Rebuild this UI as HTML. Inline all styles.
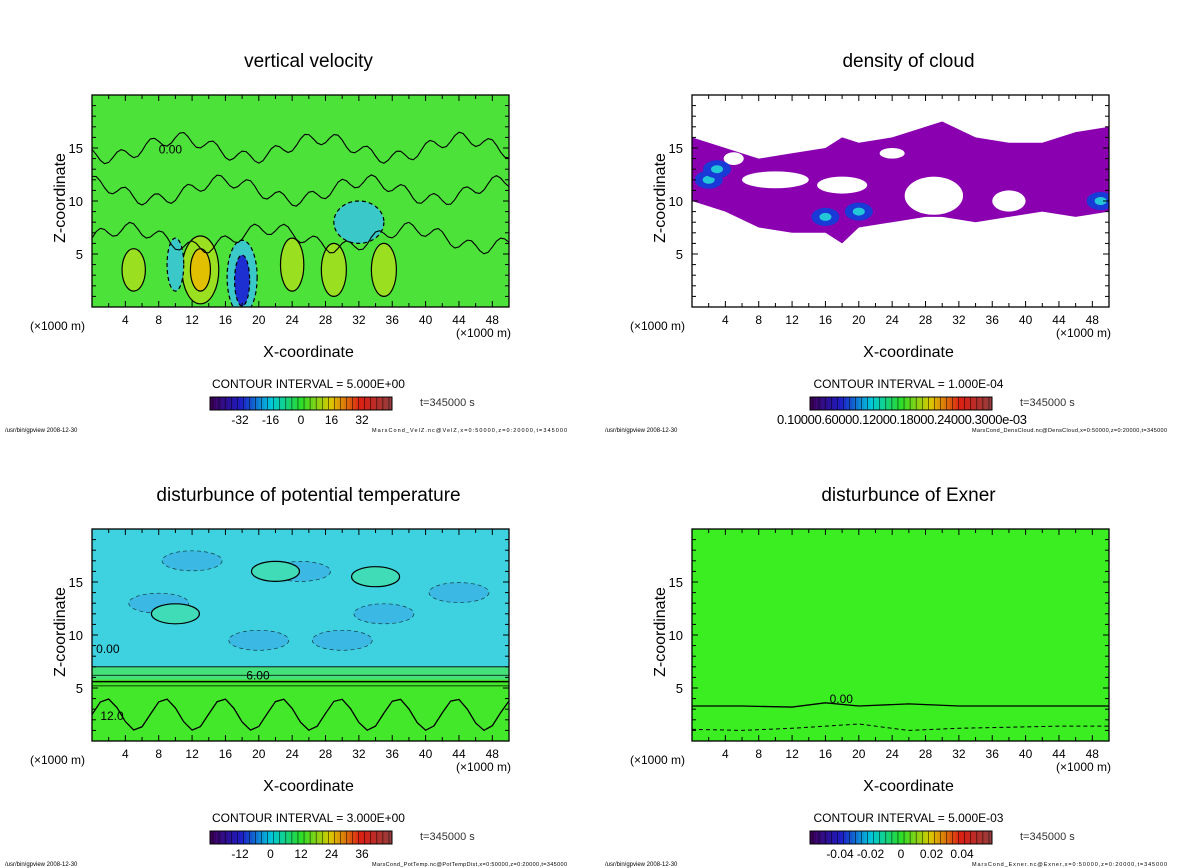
<!DOCTYPE html>
<html><head><meta charset="utf-8">
<style>
body{margin:0;background:#fff;}
svg{display:block;font-family:"Liberation Sans","DejaVu Sans",sans-serif;}
</style></head>
<body>
<svg id="s" width="1200" height="868" viewBox="0 0 1200 868"></svg>
<script>
// ---------- data ----------
const xTicks=[4,8,12,16,20,24,28,32,36,40,44,48];
const zTicks=[5,10,15];
const titles=["vertical velocity","density of cloud","disturbunce of potential temperature","disturbunce of Exner"];
const intervals=["5.000E+00","1.000E-04","3.000E+00","5.000E-03"];
const cbLabelsVel=["-32","-16","0","16","32"];
const cbLabelsTemp=["-12","0","12","24","36"];
const cbLabelsExn=["-0.04","-0.02","0","0.02","0.04"];
const footers=["MarsCond_VelZ.nc@VelZ,x=0:50000,z=0:20000,t=345000","MarsCond_DensCloud.nc@DensCloud,x=0:50000,z=0:20000,t=345000","MarsCond_PotTemp.nc@PotTempDist,x=0:50000,z=0:20000,t=345000","MarsCond_Exner.nc@Exner,x=0:50000,z=0:20000,t=345000"];
// velocity features: x(km), z(km), rx, rz, value
const velX=[13,13,18,18,5,29,35,10,24,32];
const velZ=[3.5,3.5,2.8,2.5,3.5,3.5,3.5,4,4,8];
const velRx=[2.2,1.2,1.8,0.9,1.4,1.5,1.5,1.0,1.4,3];
const velRz=[3.2,2.0,3.5,2.4,2.0,2.5,2.5,2.5,2.5,2];
const velV=[8,20,-10,-25,6,6,5,-4,5,-2];
// cloud band top/bottom z at x positions
const cloudX=[0,4,8,12,16,18,20,24,28,30,34,38,42,46,50];
const cloudTop=[16,15,14,14.5,15,16,15.5,16,17,17.5,16,15.5,15.5,16.5,17];
const cloudBot=[10,9,7.5,7,7,6,7.5,8,8.5,8.5,8,8.5,9,8.5,9];
const holeX=[10,18,29,38,24,5];
const holeZ=[12,11.5,10.5,10,14.5,14];
const holeRx=[4,3,3.5,2,1.5,1.2];
const holeRz=[0.8,0.8,1.8,1,0.5,0.6];
const cloudCoreX=[2,3,16,20,49];
const cloudCoreZ=[12,13,8.5,9,10];
// temperature cool spots
const tempX=[12,25,35,8,44,20,30];
const tempZ=[17,16,12,13,14,9.5,9.5];
const tempV=[-3,-3,-2,-2,-2,-3,-3];
// exner contour z
const exnX=[0,6,12,16,20,26,32,38,44,50];
const exnZ0=[3.3,3.3,3.2,3.6,3.3,3.5,3.3,3.3,3.3,3.3];
const exnZ1=[1.1,1.0,1.2,1.4,1.6,1.0,1.2,1.3,1.4,1.4];

const S=document.getElementById('s');
const NS="http://www.w3.org/2000/svg";
function mk(tag,attrs,parent,txt){const e=document.createElementNS(NS,tag);for(const k in attrs)e.setAttribute(k,attrs[k]);if(txt!==undefined)e.textContent=txt;(parent||S).appendChild(e);return e;}

const panels=[{x0:92,y0:95},{x0:692,y0:95},{x0:92,y0:529},{x0:692,y0:529}];
const W=417,H=212;

function rainbow(t){
  const stops=[[60,0,90],[30,30,200],[0,200,220],[40,220,40],[220,200,0],[220,30,20],[150,60,60]];
  const p=t*(stops.length-1),i=Math.min(Math.floor(p),stops.length-2),f=p-i;
  const c=stops[i].map((v,k)=>Math.round(v+(stops[i+1][k]-v)*f));
  return `rgb(${c[0]},${c[1]},${c[2]})`;
}

panels.forEach((P,pi)=>{
  const g=mk('g',{},S);
  
  
  const sx=v=>P.x0+v/50*W, sz=v=>P.y0+H-v/20*H;
  const cx=P.x0+W/2;
  const t=mk('text',{x:cx+8,y:P.y0-28,'font-size':19,'text-anchor':'middle',fill:'#000'},g,titles[pi]);
  
  const clipId='c'+pi;
  const cp=mk('clipPath',{id:clipId},g);mk('rect',{x:P.x0,y:P.y0,width:W,height:H},cp);
  const plot=mk('g',{'clip-path':`url(#${clipId})`},g);
  
  if(pi===0){
    mk('rect',{x:P.x0,y:P.y0,width:W,height:H,fill:'#4de23a'},plot);
    velX.forEach((x,i)=>{
      const v=velV[i];const col=v>0?(v>12?'#e0c000':'#9be020'):(v<-15?'#1d2fd0':'#3ac8c8');
      const e=mk('ellipse',{cx:sx(x),cy:sz(velZ[i]),rx:velRx[i]/50*W,ry:velRz[i]/20*H,fill:col,stroke:'#000','stroke-width':1.2,'stroke-dasharray':v<0?'4,3':'none'},plot);
      
    });
    for(let k=0;k<3;k++){
      let d='';for(let x=0;x<=50;x+=0.5){const z=[6.5,11,15][k]+Math.sin(x*1.7+k)*0.6+Math.sin(x*0.37+k*2)*0.9;d+=(x?'L':'M')+sx(x)+','+sz(z);}
      mk('path',{d,fill:'none',stroke:'#000','stroke-width':1.1},plot);
    }
    mk('text',{x:sx(8),y:sz(14.5),'font-size':12},plot,'0.00');
  } else if(pi===1){
    mk('rect',{x:P.x0,y:P.y0,width:W,height:H,fill:'#fff'},plot);
    let d='';cloudX.forEach((x,i)=>d+=(i?'L':'M')+sx(x)+','+sz(cloudTop[i]));
    for(let i=cloudX.length-1;i>=0;i--)d+='L'+sx(cloudX[i])+','+sz(cloudBot[i]);
    const b=mk('path',{d:d+'Z',fill:'#8a00b0'},plot);
    
    holeX.forEach((x,i)=>mk('ellipse',{cx:sx(x),cy:sz(holeZ[i]),rx:holeRx[i]/50*W,ry:holeRz[i]/20*H,fill:'#fff'},plot));
    cloudCoreX.forEach((x,i)=>{
      mk('ellipse',{cx:sx(x),cy:sz(cloudCoreZ[i]),rx:14,ry:9,fill:'#1a3ad8'},plot);
      mk('ellipse',{cx:sx(x),cy:sz(cloudCoreZ[i]),rx:6,ry:4,fill:'#22c8d8'},plot);
    });
  } else if(pi===2){
    mk('rect',{x:P.x0,y:P.y0,width:W,height:H,fill:'#3ed2e0'},plot);
    tempX.forEach((x,i)=>mk('ellipse',{cx:sx(x),cy:sz(tempZ[i]),rx:30,ry:10,fill:'#3aaee6',opacity:0.7,stroke:'#000','stroke-width':0.7,'stroke-dasharray':'4,3'},plot));
    mk('rect',{x:P.x0,y:sz(7),width:W,height:sz(5.8)-sz(7),fill:'#44e07a'},plot);
    mk('rect',{x:P.x0,y:sz(5.8),width:W,height:sz(0)-sz(5.8),fill:'#44e82a'},plot);
    [7,6.2,5.6,5.2].forEach(z=>mk('line',{x1:P.x0,x2:P.x0+W,y1:sz(z),y2:sz(z),stroke:'#000','stroke-width':z==5.6?1.5:0.8},plot));
    let d='';for(let x=0;x<=50;x+=1){const z=2.5+Math.sin(x*0.9)*1.5;d+=(x?'L':'M')+sx(x)+','+sz(z);}
    mk('path',{d,fill:'none',stroke:'#000','stroke-width':1.3},plot);
    [[10,12],[22,16],[34,15.5]].forEach(p=>mk('ellipse',{cx:sx(p[0]),cy:sz(p[1]),rx:24,ry:10,fill:'#40dcb8',stroke:'#000','stroke-width':1.2},plot));
    mk('text',{x:sx(0.5),y:sz(8.3),'font-size':12},plot,'0.00');
    mk('text',{x:sx(18.5),y:sz(5.8),'font-size':12},plot,'6.00');
    mk('text',{x:sx(1),y:sz(2),'font-size':12},plot,'12.0');
  } else {
    mk('rect',{x:P.x0,y:P.y0,width:W,height:H,fill:'#3aee22'},plot);
    let d='';exnX.forEach((x,i)=>d+=(i?'L':'M')+sx(x)+','+sz(exnZ0[i]));
    const l=mk('path',{d,fill:'none',stroke:'#000','stroke-width':1.3},plot);
    
    let d2='';exnX.forEach((x,i)=>d2+=(i?'L':'M')+sx(x)+','+sz(exnZ1[i]));
    mk('path',{d:d2,fill:'none',stroke:'#000','stroke-width':1,'stroke-dasharray':'4,3'},plot);
    mk('text',{x:sx(16.5),y:sz(3.6),'font-size':12},plot,'0.00');
  }
  const fr=mk('rect',{x:P.x0,y:P.y0,width:W,height:H,fill:'none',stroke:'#000','stroke-width':1.3},g);
  
  for(let x=2;x<50;x+=2){const L=x%4==0?6:4;
    mk('line',{x1:sx(x),x2:sx(x),y1:P.y0+H,y2:P.y0+H-L,stroke:'#000'},g);
    mk('line',{x1:sx(x),x2:sx(x),y1:P.y0,y2:P.y0+L,stroke:'#000'},g);}
  for(let z=1;z<20;z++){const L=z%5==0?6:4;
    mk('line',{x1:P.x0,x2:P.x0+L,y1:sz(z),y2:sz(z),stroke:'#000'},g);
    mk('line',{x1:P.x0+W,x2:P.x0+W-L,y1:sz(z),y2:sz(z),stroke:'#000'},g);}
  xTicks.forEach(x=>{const e=mk('text',{x:sx(x),y:P.y0+H+17,'font-size':12,'text-anchor':'middle'},g,String(x));
    });
  zTicks.forEach(z=>{const e=mk('text',{x:P.x0-9,y:sz(z)+5,'font-size':13,'text-anchor':'end'},g,String(z));
    });
  mk('text',{x:P.x0-62,y:P.y0+H+23,'font-size':12},g,'(×1000 m)');
  mk('text',{x:P.x0+W-53,y:P.y0+H+30,'font-size':12},g,'(×1000 m)');
  const xl=mk('text',{x:cx+8,y:P.y0+H+50,'font-size':16,'text-anchor':'middle'},g,'X-coordinate');
  
  const zl=mk('text',{x:0,y:0,'font-size':16,'text-anchor':'middle',transform:`translate(${P.x0-27},${P.y0+H/2-3}) rotate(-90)`},g,'Z-coordinate');
  
  mk('text',{x:cx+8,y:P.y0+H+81,'font-size':12,'text-anchor':'middle'},g,'CONTOUR INTERVAL = '+intervals[pi]);
  const cbx=P.x0+118,cby=P.y0+H+90,cbw=182,cbh=13;
  const cb=mk('g',{},g);
  const n=60;for(let i=0;i<n;i++){mk('rect',{x:cbx+i*cbw/n,y:cby,width:cbw/n+0.3,height:cbh,fill:rainbow(i/(n-1))},cb);
    if(i%2)mk('line',{x1:cbx+i*cbw/n,x2:cbx+i*cbw/n,y1:cby,y2:cby+cbh,stroke:'#000','stroke-width':0.5},cb);}
  mk('rect',{x:cbx,y:cby,width:cbw,height:cbh,fill:'none',stroke:'#000'},cb);
  const labs=pi===0?cbLabelsVel:pi===2?cbLabelsTemp:pi===3?cbLabelsExn:null;
  if(labs){labs.forEach((l,i)=>mk('text',{x:cbx+30+i*(cbw-60)/4,y:cby+27,'font-size':12,'text-anchor':'middle'},cb,l));}
  else mk('text',{x:cbx-33,y:cby+27,'font-size':13,textLength:250},cb,'0.10000.60000.12000.18000.24000.3000e-03');
  mk('text',{x:P.x0+328,y:cby+9,'font-size':11,fill:'#333'},g,'t=345000  s');
  mk('text',{x:P.x0-87,y:cby+35,'font-size':6},g,'/usr/bin/gpview   2008-12-30');
  mk('text',{x:P.x0+280,y:cby+35,'font-size':5.5,textLength:195},g,footers[pi]);
});
</script>
</body></html>
